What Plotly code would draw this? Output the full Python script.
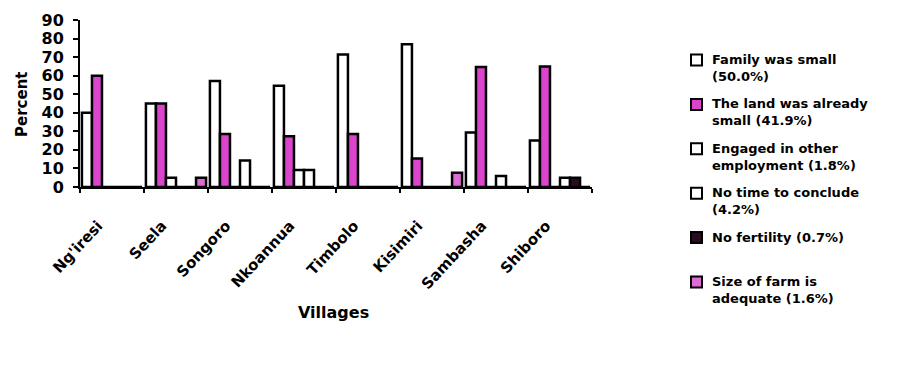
import plotly.graph_objects as go

# Villages surveyed
villages = ["Ng'iresi", "Seela", "Songoro", "Nkoannua", "Timbolo", "Kisimiri", "Sambasha", "Shiboro"]

# Percent of respondents per village giving each reason
family_small = [40.0, 45.0, 57.1, 54.5, 71.4, 76.9, 29.4, 25.0]
land_small = [60.0, 45.0, 28.6, 27.3, 28.6, 15.4, 64.7, 65.0]
other_employment = [0, 5.0, 0, 9.1, 0, 0, 0, 0]
no_time = [0, 0, 14.3, 9.1, 0, 0, 5.9, 5.0]
no_fertility = [0, 0, 0, 0, 0, 0, 0, 5.0]
farm_adequate = [0, 5.0, 0, 0, 0, 7.7, 0, 0]

series_names = [
    "Family was small<br>(50.0%)",
    "The land was already<br>small (41.9%)",
    "Engaged in other<br>employment (1.8%)",
    "No time to conclude<br>(4.2%)",
    "No fertility (0.7%)",
    "Size of farm is<br>adequate (1.6%)",
]
series_values = [family_small, land_small, other_employment, no_time, no_fertility, farm_adequate]
fills = ["#ffffff", "#db45cc", "#ffffff", "#ffffff", "#2a0b22", "#e06ad6"]

FONT = "DejaVu Sans"
W, H = 916, 368
ML, MR, MT, MB = 80, 324, 20, 181
PW, PH = W - ML - MR, H - MT - MB


def px_x(px):
    return (px - ML) / PW


def px_y(py):
    return (H - MB - py) / PH


fig = go.Figure()
for name, vals, fill in zip(series_names, series_values, fills):
    fig.add_trace(go.Bar(
        x=villages,
        y=vals,
        name=name,
        showlegend=False,
        marker=dict(color=fill, line=dict(color="#000000", width=2.5)),
    ))

# Legend block on the right: swatch + wrapped label per series
shapes = []
annotations = []
ROW0, ROW_STEP = 60, 44.4
for i, (name, fill) in enumerate(zip(series_names, fills)):
    yc = ROW0 + i * ROW_STEP
    shapes.append(dict(
        type="rect", xref="paper", yref="paper",
        x0=px_x(691), x1=px_x(702), y0=px_y(yc + 5.5), y1=px_y(yc - 5.5),
        fillcolor=fill, line=dict(color="black", width=2),
    ))
    annotations.append(dict(
        text=name, xref="paper", yref="paper",
        x=px_x(710), y=px_y(yc - 10), xanchor="left", yanchor="top",
        align="left", showarrow=False,
        font=dict(family=FONT, size=13, color="black", weight="bold"),
    ))

annotations += [
    dict(text="Villages", xref="paper", yref="paper", x=0.495, y=px_y(312),
         xanchor="center", yanchor="middle", showarrow=False,
         font=dict(family=FONT, size=16, color="black", weight="bold")),
    dict(text="Percent", xref="paper", yref="paper", x=px_x(22), y=px_y(105),
         xanchor="center", yanchor="middle", showarrow=False, textangle=-90,
         font=dict(family=FONT, size=15, color="black", weight="bold")),
]

fig.update_layout(
    width=W,
    height=H,
    margin=dict(l=ML, r=MR, t=MT, b=MB),
    paper_bgcolor="white",
    plot_bgcolor="white",
    barmode="group",
    bargap=0.06,
    bargroupgap=0,
    font=dict(family=FONT, color="black", weight="bold"),
    showlegend=False,
    xaxis=dict(
        type="category",
        tickson="boundaries",
        ticks="outside",
        ticklen=4,
        tickwidth=2,
        tickcolor="black",
        showline=True,
        linecolor="black",
        linewidth=2,
        showgrid=False,
        tickangle=-47,
        ticklabelstandoff=22,
        ticklabelshift=-14,
        tickfont=dict(family=FONT, size=15, color="black", weight="bold"),
    ),
    yaxis=dict(
        range=[0, 90],
        dtick=10,
        ticks="outside",
        ticklen=5,
        tickwidth=2,
        tickcolor="black",
        showline=True,
        linecolor="black",
        linewidth=2,
        showgrid=False,
        zeroline=False,
        ticklabelstandoff=6,
        tickfont=dict(family=FONT, size=16, color="black", weight="bold"),
    ),
    shapes=shapes,
    annotations=annotations,
)

fig.write_html("out.html")
